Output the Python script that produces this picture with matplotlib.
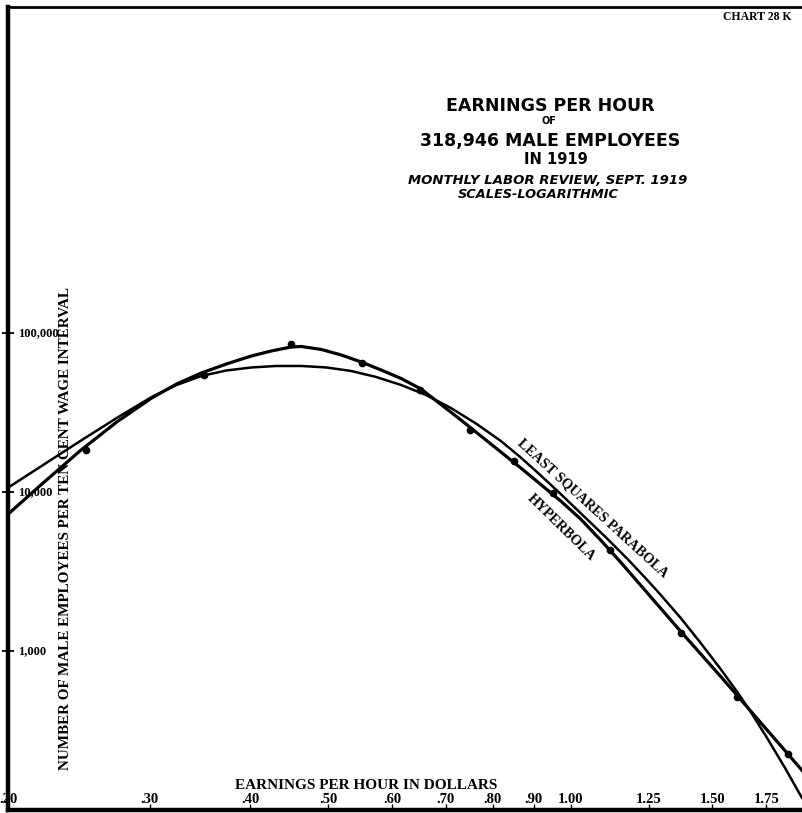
import matplotlib
matplotlib.use("Agg")
import matplotlib.pyplot as plt
from matplotlib.ticker import NullLocator
import matplotlib.transforms as mtransforms

# observed points: midpoints of wage intervals (dollars) and employees per 10-cent interval
wage = [0.25, 0.35, 0.45, 0.55, 0.65, 0.75, 0.85, 0.95, 1.12, 1.37, 1.61, 1.86]
employees = [18370, 54420, 85260, 64480, 43810, 24560, 15740, 9810, 4317, 1292, 516, 225]

# fitted curves
hyper_x = [0.2011, 0.2204, 0.2457, 0.2730, 0.3017, 0.3240, 0.3478, 0.3736, 0.4013, 0.4248,
           0.4498, 0.4628, 0.4900, 0.5188, 0.5492, 0.5815, 0.6157, 0.6518, 0.6901, 0.7306,
           0.7735, 0.8190, 0.8671, 0.9181, 0.9719, 1.0289, 1.0893, 1.1533, 1.2210, 1.2926,
           1.3686, 1.4491, 1.5341, 1.6106, 1.7196, 1.8573, 1.9441]
hyper_y = [7431, 11226, 18110, 27560, 39010, 47780, 56030, 63830, 71670, 77050,
           81650, 82240, 78750, 72720, 65710, 58520, 51740, 44440, 35510, 28370,
           22500, 17850, 14160, 11150, 8779, 6764, 4990, 3629, 2601, 1864,
           1336, 964.5, 696.3, 525.0, 357.7, 228.3, 174.6]

parab_x = [0.2011, 0.2236, 0.2471, 0.2730, 0.3017, 0.3240, 0.3478, 0.3736, 0.4013, 0.4310,
           0.4628, 0.4971, 0.5338, 0.5732, 0.6157, 0.6612, 0.7100, 0.7626, 0.8190, 0.8671,
           0.9181, 0.9719, 1.0378, 1.1050, 1.1766, 1.2386, 1.2926, 1.3686, 1.4491, 1.5341,
           1.6106, 1.6712, 1.7542, 1.8468, 1.9385]
parab_y = [10830, 15330, 21240, 29200, 39580, 47090, 53650, 58100, 60680, 62010,
           62010, 60680, 57680, 52880, 47090, 40740, 33750, 26970, 20930, 16480,
           12700, 9715, 7064, 5212, 3790, 2878, 2266, 1624, 1131, 776.1,
           552.3, 419.4, 283.7, 183.7, 119.0]

x_ticks = [0.20, 0.30, 0.40, 0.50, 0.60, 0.70, 0.80, 0.90, 1.00, 1.25, 1.50, 1.75]
x_labels = [".20", ".30", ".40", ".50", ".60", ".70", ".80", ".90", "1.00", "1.25", "1.50", "1.75"]
y_ticks = [1000, 10000, 100000]
y_labels = ["1,000", "10,000", "100,000"]

serif = "Liberation Serif"
sans = "DejaVu Sans"

fig = plt.figure(figsize=(8.03, 8.13), dpi=100)
ax = fig.add_axes([8 / 803, 3 / 813, 795 / 803, 803 / 813])
ax.set_xscale("log")
ax.set_yscale("log")
ax.set_xlim(0.2011, 1.944)
ax.set_ylim(100, 1.122e7)

ax.plot(parab_x, parab_y, color="black", lw=1.8, solid_capstyle="round", solid_joinstyle="round")
ax.plot(hyper_x, hyper_y, color="black", lw=2.3, solid_capstyle="round", solid_joinstyle="round")
ax.plot(wage, employees, "o", color="black", ms=4.5)

for side in ["left", "bottom"]:
    ax.spines[side].set_linewidth(3.2)
ax.spines["top"].set_linewidth(2)
ax.spines["right"].set_visible(False)

ax.set_xticks(x_ticks)
ax.set_yticks(y_ticks)
ax.xaxis.set_minor_locator(NullLocator())
ax.yaxis.set_minor_locator(NullLocator())
ax.tick_params(axis="x", direction="in", length=4, width=1, labelbottom=False)
ax.tick_params(axis="y", direction="inout", length=9, width=1.3, labelleft=False)

xt = mtransforms.blended_transform_factory(ax.transData, ax.transAxes)
for v, s in zip(x_ticks, x_labels):
    ax.text(v, 0.0125, s, transform=xt, ha="center", va="center",
            fontsize=10.5, fontweight="bold", family=serif)

yt = mtransforms.blended_transform_factory(ax.transAxes, ax.transData)
for v, s in zip(y_ticks, y_labels):
    ax.text(0.0126, v, s, transform=yt, ha="left", va="center",
            fontsize=9, fontweight="bold", family=serif)

ax.text(0.450, 0.031, "EARNINGS PER HOUR IN DOLLARS", transform=ax.transAxes,
        ha="center", va="center", fontsize=11, fontweight="bold", family=serif)
ax.text(0.0725, 0.350, "NUMBER OF MALE EMPLOYEES PER TEN CENT WAGE INTERVAL",
        transform=ax.transAxes, rotation=90, ha="center", va="center",
        fontsize=10.9, fontweight="bold", family=serif)

ax.text(1.065, 7933, "LEAST SQUARES PARABOLA", rotation=-42.4, rotation_mode="anchor",
        ha="center", va="center", fontsize=10.2, fontweight="bold", family=serif)
ax.text(0.9747, 5937, "HYPERBOLA", rotation=-44.3, rotation_mode="anchor",
        ha="center", va="center", fontsize=10.2, fontweight="bold", family=serif)

# title block
def ftext(px, py, s, **kw):
    fig.text(px / 803, 1 - py / 813, s, ha="center", va="center", **kw)

ftext(550, 106, "EARNINGS PER HOUR", fontsize=12.5, fontweight="bold", family=sans)
ftext(549, 121, "OF", fontsize=7, fontweight="bold", family=sans)
ftext(550, 141, "318,946 MALE EMPLOYEES", fontsize=12.5, fontweight="bold", family=sans)
ftext(556, 160, "IN 1919", fontsize=10.5, fontweight="bold", family=sans)
ftext(548, 180, "MONTHLY LABOR REVIEW, SEPT. 1919", fontsize=9.5, fontweight="bold",
      style="italic", family=sans)
ftext(538, 194, "SCALES-LOGARITHMIC", fontsize=9.3, fontweight="bold",
      style="italic", family=sans)
ftext(757, 17, "CHART 28 K", fontsize=8.5, fontweight="bold", family=serif)

fig.savefig("out.png", dpi=100)
